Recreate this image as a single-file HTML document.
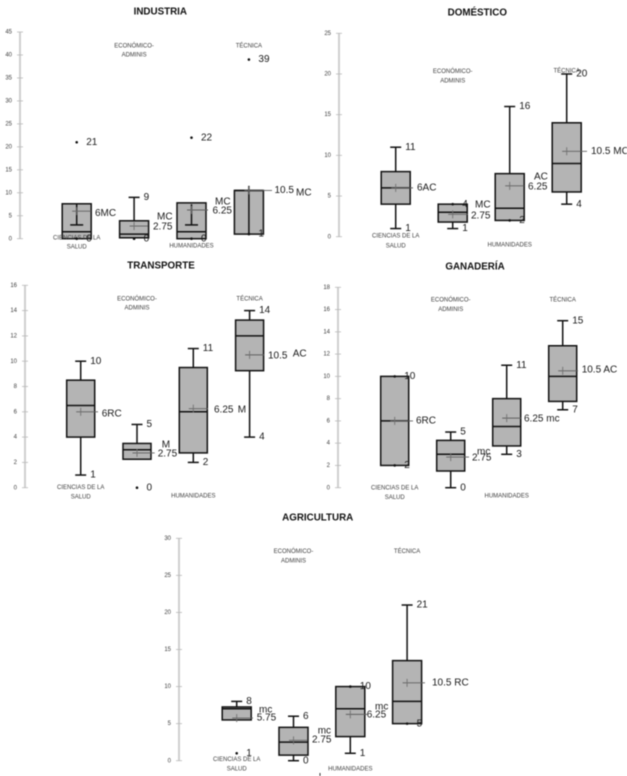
<!DOCTYPE html>
<html lang="es">
<head>
<meta charset="utf-8">
<title>Diagramas de caja por sector</title>
<style>
html,body{margin:0;padding:0;background:#fff;width:627px;height:776px;overflow:hidden}
svg{display:block;filter:blur(0.4px)}
text{font-family:"Liberation Sans",sans-serif}
</style>
</head>
<body>
<svg id="figure" width="627" height="776" viewBox="0 0 627 776" xmlns="http://www.w3.org/2000/svg">
<rect width="627" height="776" fill="#ffffff"/>
<rect x="319.5" y="773" width="1" height="3" fill="#333"/>
</svg>
<script>
const categoryLines = [["CIENCIAS DE LA","SALUD"],["ECONÓMICO-","ADMINIS"],["HUMANIDADES"],["TÉCNICA"]];

const industriaTicks = [0,5,10,15,20,25,30,35,40,45];
const industriaQ1 = [0,0.2,0,1];
const industriaQ3 = [7.6,3.9,7.8,10.5];
const industriaMedian = [1.5,1,1.5,10.5];
const industriaLow = [0,0.2,0,1];
const industriaHigh = [7.6,9,7.8,10.5];
const industriaInnerLow = [3,null,3,1];
const industriaInnerHigh = [7.5,null,7.5,11.5];
const industriaMean = [6,2.75,6.25,10.5];
const industriaOutliers = [[0,21],[0,0],[1,0],[2,22],[2,0],[3,39],[3,1]];
const industriaLabeled = [[0,21],[0,0],[1,9],[1,0],[2,22],[2,0],[3,39],[3,1]];

const domesticoTicks = [0,5,10,15,20,25];
const domesticoQ1 = [4,1.8,2,5.5];
const domesticoQ3 = [8,4,7.75,14];
const domesticoMedian = [6,3,3.5,9];
const domesticoLow = [1,1,2,4];
const domesticoHigh = [11,4,16,20];
const domesticoMean = [6,2.75,6.25,10.5];
const domesticoOutliers = [[1,4],[2,2]];
const domesticoLabeled = [[0,11],[0,1],[1,4],[1,1],[2,16],[2,2],[3,20],[3,4]];

const transporteTicks = [0,2,4,6,8,10,12,14,16];
const transporteQ1 = [4,2.25,2.75,9.25];
const transporteQ3 = [8.5,3.5,9.5,13.25];
const transporteMedian = [6.5,3,6,12];
const transporteLow = [1,2.25,2,4];
const transporteHigh = [10,5,11,14];
const transporteMean = [6,2.75,6.25,10.5];
const transporteOutliers = [[1,0]];
const transporteLabeled = [[0,10],[0,1],[1,5],[1,0],[2,11],[2,2],[3,14],[3,4]];

const ganaderiaTicks = [0,2,4,6,8,10,12,14,16,18];
const ganaderiaQ1 = [2,1.5,3.75,7.75];
const ganaderiaQ3 = [10,4.25,8,12.75];
const ganaderiaMedian = [6,3,5.5,10];
const ganaderiaLow = [2,0,3,7];
const ganaderiaHigh = [10,5,11,15];
const ganaderiaMean = [6,2.75,6.25,10.5];
const ganaderiaOutliers = [[0,10],[0,2]];
const ganaderiaLabeled = [[0,10],[0,2],[1,5],[1,0],[2,11],[2,3],[3,15],[3,7]];

const agriculturaTicks = [0,5,10,15,20,25,30];
const agriculturaQ1 = [5.5,0.75,3.25,5];
const agriculturaQ3 = [7.25,4.5,10,13.5];
const agriculturaMedian = [7,2.5,7,8];
const agriculturaLow = [5.5,0,1,5];
const agriculturaHigh = [8,6,10,21];
const agriculturaMean = [5.75,2.75,6.25,10.5];
const agriculturaOutliers = [[0,1],[2,10],[3,5]];
const agriculturaLabeled = [[0,8],[0,1],[1,6],[1,0],[2,10],[2,1],[3,21],[3,5]];

const charts = [
  {key:"industria",title:"INDUSTRIA",ticks:industriaTicks,q1:industriaQ1,q3:industriaQ3,median:industriaMedian,low:industriaLow,high:industriaHigh,innerLow:industriaInnerLow,innerHigh:industriaInnerHigh,mean:industriaMean,outliers:industriaOutliers,labeled:industriaLabeled,
   layout:{axisX:20,top:32,bottom:238.7,x0:76.7,step:57.4,half:14.5,titleX:160.3,titleY:12,
     catY:[[237.7,247],[45.7,55],[246],[45.7]],leader:[91,148,208,272],innerCap:[6.5,0,6.5,0],
     notes:[["6MC",95,213.5],["MC",157,217],["2.75",153,227],["MC",215,202],["6.25",212.5,211],["10.5",274.5,190.5],["MC",296,193]]}},
  {key:"domestico",title:"DOMÉSTICO",ticks:domesticoTicks,q1:domesticoQ1,q3:domesticoQ3,median:domesticoMedian,low:domesticoLow,high:domesticoHigh,mean:domesticoMean,outliers:domesticoOutliers,labeled:domesticoLabeled,
   layout:{axisX:339,top:33.3,bottom:236.7,x0:395.7,step:57,half:14.5,titleX:477.3,titleY:13,
     catY:[[236,245.7],[71.3,81],[245],[71]],leader:[413,468,524,587],
     notes:[["6AC",417,187.7],["MC",475,205],["2.75",471,216],["AC",534,177],["6.25",528,187],["10.5 MC",591,151.5]]}},
  {key:"transporte",title:"TRANSPORTE",ticks:transporteTicks,q1:transporteQ1,q3:transporteQ3,median:transporteMedian,low:transporteLow,high:transporteHigh,mean:transporteMean,outliers:transporteOutliers,labeled:transporteLabeled,
   layout:{axisX:25,top:285.3,bottom:487.7,x0:80.7,step:56.3,half:14,titleX:161,titleY:265.7,
     catY:[[487.3,496.7],[298.7,308],[495.7],[298.7]],leader:[98,154.7,208,264],
     notes:[["6RC",101.7,413.7],["M",161.7,445],["2.75",157.7,454],["6.25",214,410],["M",237.7,410],["10.5",268,355.7],["AC",292.7,353.7]]}},
  {key:"ganaderia",title:"GANADERÍA",ticks:ganaderiaTicks,q1:ganaderiaQ1,q3:ganaderiaQ3,median:ganaderiaMedian,low:ganaderiaLow,high:ganaderiaHigh,mean:ganaderiaMean,outliers:ganaderiaOutliers,labeled:ganaderiaLabeled,
   layout:{axisX:338,top:287.3,bottom:487.7,x0:394.7,step:56,half:14,titleX:475,titleY:267,
     catY:[[487.7,497.3],[300,309.3],[495.7],[300]],leader:[413,469,521,578],
     notes:[["6RC",416,420.7],["mc",477,452],["2.75",472,458],["6.25 mc",524,418.7],["10.5 AC",581.7,370]]}},
  {key:"agricultura",title:"AGRICULTURA",ticks:agriculturaTicks,q1:agriculturaQ1,q3:agriculturaQ3,median:agriculturaMedian,low:agriculturaLow,high:agriculturaHigh,mean:agriculturaMean,outliers:agriculturaOutliers,labeled:agriculturaLabeled,
   layout:{axisX:179,top:538.3,bottom:760.7,x0:236.7,step:56.8,half:14.5,titleX:317.7,titleY:518,
     catY:[[759.3,768.7],[551.3,560.7],[768.7],[551.3]],leader:[253,307,367,425],
     notes:[["mc",259,710],["5.75",256.7,718],["mc",317.7,730.7],["2.75",312,740],["mc",375,707],["6.25",366.7,714.7],["10.5 RC",432,683]]}}
];

const NS = "http://www.w3.org/2000/svg";
const figure = document.getElementById("figure");

function mk(tag, attrs, parent, content) {
  const el = document.createElementNS(NS, tag);
  for (const k in attrs) el.setAttribute(k, attrs[k]);
  if (content !== undefined) el.textContent = content;
  parent.appendChild(el);
  return el;
}

charts.forEach(function (c) {
  const L = c.layout;
  const maxTick = c.ticks[c.ticks.length - 1];
  const yScale = function (v) { return L.bottom - (v / maxTick) * (L.bottom - L.top); };
  const xScale = function (i) { return L.x0 + i * L.step; };

  const chart = mk("g", {}, figure);
  
  

  const title = mk("text", {x:L.titleX, y:L.titleY, "text-anchor":"middle", "dominant-baseline":"middle", "font-size":"9.8", "font-weight":"bold", fill:"#111"}, chart, c.title);
  
  

  const axis = mk("line", {x1:L.axisX, x2:L.axisX, y1:L.top, y2:L.bottom, stroke:"#cfcfcf", "stroke-width":"2"}, chart);
  
  

  c.ticks.forEach(function (t) {
    const tick = mk("line", {x1:L.axisX - 3, x2:L.axisX + 3, y1:yScale(t), y2:yScale(t), stroke:"#b8b8b8", "stroke-width":"0.8"}, chart);
    
    
    const label = mk("text", {x:L.axisX - 8, y:yScale(t), "text-anchor":"end", "dominant-baseline":"middle", "font-size":"6", fill:"#3d3d3d"}, chart, String(t));
    
    
  });

  c.q1.forEach(function (q, i) {
    const cx = xScale(i);
    const group = mk("g", {stroke:"#111", "stroke-width":"1.5"}, chart);
    
    

    const whiskerUp = mk("line", {x1:cx, x2:cx, y1:yScale(c.q3[i]), y2:yScale(c.high[i])}, group);
    
    
    const whiskerDown = mk("line", {x1:cx, x2:cx, y1:yScale(q), y2:yScale(c.low[i])}, group);
    
    

    if (c.high[i] > c.q3[i]) {
      const capUp = mk("line", {x1:cx - 5.5, x2:cx + 5.5, y1:yScale(c.high[i]), y2:yScale(c.high[i])}, group);
      
      
    }
    if (c.low[i] < q) {
      const capDown = mk("line", {x1:cx - 5.5, x2:cx + 5.5, y1:yScale(c.low[i]), y2:yScale(c.low[i])}, group);
      
      
    }

    const box = mk("rect", {x:cx - L.half, width:2 * L.half, y:yScale(c.q3[i]), height:yScale(q) - yScale(c.q3[i]), fill:"#b4b4b4"}, group);
    
    

    const med = mk("line", {x1:cx - L.half, x2:cx + L.half, y1:yScale(c.median[i]), y2:yScale(c.median[i])}, group);
    
    

    if (c.innerLow && c.innerLow[i] !== null) {
      const inner = mk("line", {x1:cx, x2:cx, y1:yScale(c.innerLow[i]), y2:yScale(c.innerHigh[i])}, group);
      
      
      if (L.innerCap[i] > 0) {
        const innerCap = mk("line", {x1:cx - L.innerCap[i], x2:cx + L.innerCap[i], y1:yScale(c.innerLow[i]), y2:yScale(c.innerLow[i])}, group);
        
        
      }
    }

    const my = yScale(c.mean[i]);
    const leader = mk("line", {x1:cx - 4.5, x2:L.leader[i], y1:my, y2:my, stroke:"#5f5f5f", "stroke-width":"0.9"}, group);
    
    
    const cross = mk("line", {x1:cx, x2:cx, y1:my - 4, y2:my + 4, stroke:"#707070", "stroke-width":"0.9"}, group);
    
    
  });

  categoryLines.forEach(function (lines, i) {
    lines.forEach(function (line, j) {
      const label = mk("text", {x:xScale(i), y:L.catY[i][j], "text-anchor":"middle", "dominant-baseline":"middle", "font-size":"6", fill:"#3d3d3d"}, chart, line);
      
      
    });
  });

  c.outliers.forEach(function (p) {
    const dot = mk("circle", {cx:xScale(p[0]), cy:yScale(p[1]), r:"1.3", fill:"#111"}, chart);
    
    
  });

  c.labeled.forEach(function (p) {
    const label = mk("text", {x:xScale(p[0]) + 9.5, y:yScale(p[1]), "dominant-baseline":"middle", "font-size":"10", fill:"#1a1a1a"}, chart, String(p[1]));
    
    
  });

  L.notes.forEach(function (n) {
    const note = mk("text", {x:n[1], y:n[2], "dominant-baseline":"middle", "font-size":"10", fill:"#1a1a1a"}, chart, n[0]);
    
    
  });
});
</script>
</body>
</html>
